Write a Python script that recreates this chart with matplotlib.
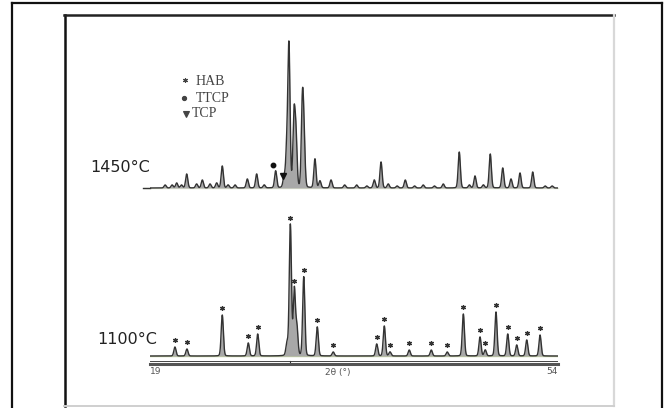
import numpy as np
import matplotlib
matplotlib.use("Agg")
import matplotlib.pyplot as plt
from matplotlib.lines import Line2D
from matplotlib.transforms import blended_transform_factory

# ---------------- data ----------------
# 1100 °C pattern: peak positions (2θ, deg) and heights (arb. units)
pos_1100 = [21.14, 22.17, 25.20, 27.43, 28.24, 30.75, 31.04, 31.38, 31.60, 32.19,
            33.35, 34.72, 38.45, 39.10, 39.59, 41.24, 43.13, 44.50, 45.88, 47.31,
            47.76, 48.68, 49.69, 50.46, 51.32, 52.46]
ht_1100 = [9, 7, 41, 13, 22, 12, 131, 66, 28, 79,
           29, 4, 12, 30, 4, 6, 6, 4, 42, 19,
           6, 44, 22, 11, 16, 21]
# peaks marked with an asterisk (HAB)
star_1100 = [21.14, 22.17, 25.20, 27.43, 28.24, 31.04, 31.38, 32.19, 33.35, 34.72,
             38.45, 39.10, 39.59, 41.24, 43.13, 44.50, 45.88, 47.31, 47.76, 48.68,
             49.69, 50.46, 51.32, 52.46]
star_ht = [9, 7, 41, 13, 22, 131, 68, 79, 29, 4,
           12, 30, 4, 6, 6, 4, 42, 19, 6, 44,
           22, 11, 16, 21]

# 1450 °C pattern
pos_1450 = [20.30, 20.90, 21.29, 21.70, 22.15, 23.00, 23.49, 24.15, 24.72, 25.20,
            25.70, 26.30, 27.35, 28.15, 28.80, 29.78, 30.50, 30.73, 30.92, 31.35,
            31.52, 32.07, 32.21, 33.15, 33.58, 34.53, 35.70, 36.73, 37.60, 38.24,
            38.82, 39.44, 40.20, 40.90, 41.70, 42.44, 43.40, 44.16, 45.53, 46.40,
            46.88, 47.60, 48.19, 49.26, 49.97, 50.74, 51.83, 52.90, 53.50]
ht_1450 = [3, 3, 5, 3, 14, 4, 8, 4, 5, 22,
           3, 3, 9, 14, 3, 17, 10, 36, 141, 70,
           50, 82, 45, 29, 7, 8, 3, 3, 2, 8,
           26, 4, 2, 8, 2, 3, 2, 4, 36, 3,
           12, 3, 34, 20, 9, 15, 16, 2, 2]
ttcp_mark = (29.55, 23)   # (2θ, height above 1450 baseline)
tcp_mark = (30.45, 12)

offset_1450 = 168
sample_labels = ["1450°C", "1100°C"]
legend_labels = ["HAB", "TTCP", "TCP"]
tick_labels = ["19", "54"]
xlabel = "2θ (°)"

# ---------------- figure ----------------
W, H = 665, 408
fig = plt.figure(figsize=(W / 100, H / 100), dpi=100)
fig.patch.set_facecolor("white")


def fx(px):
    return px / W


def fy(py):
    return 1 - py / H


# outer frame
fig.add_artist(Line2D([fx(12), fx(12)], [fy(3), fy(420)], color="#111", lw=1.6))
fig.add_artist(Line2D([fx(12), fx(662)], [fy(3), fy(3)], color="#111", lw=1.6))
fig.add_artist(Line2D([fx(662), fx(662)], [fy(3), fy(420)], color="#111", lw=1.6))
# inner frame
fig.add_artist(Line2D([fx(64.5), fx(64.5)], [fy(15), fy(406)], color="#111", lw=1.8))
fig.add_artist(Line2D([fx(64), fx(614)], [fy(15), fy(15)], color="#222", lw=1.8))
fig.add_artist(Line2D([fx(614), fx(614)], [fy(15), fy(406)], color="#d8d8d8", lw=1.6))
fig.add_artist(Line2D([fx(64), fx(614)], [fy(406), fy(406)], color="#cfcfcf", lw=1.4))

# main axes: x 150..558 px, y 20..364 px
ax = fig.add_axes([fx(150), fy(364), fx(558) - fx(150), (364 - 20) / H])
ax.set_xlim(19, 54)
ax.set_ylim(-8, 336)
ax.patch.set_alpha(0)
for s in ["top", "right", "left"]:
    ax.spines[s].set_visible(False)
ax.spines["bottom"].set_color("#555")
ax.spines["bottom"].set_linewidth(2.2)
ax.set_yticks([])
ax.set_xticks([19, 54])
ax.set_xticklabels(tick_labels, fontsize=6.5, color="#555")
ax.tick_params(axis="x", length=0, pad=2)
lbls = ax.get_xticklabels()
lbls[0].set_ha("left")
lbls[1].set_ha("right")
# second thin axis line just above
ax.axhline(-5.3, color="#444", lw=0.7)

theta = np.linspace(19, 54, 6000)


def profile(pos, ht, fwhm=0.22):
    y = np.zeros_like(theta)
    s = fwhm / 2.3548
    g = fwhm / 2
    for p, h in zip(pos, ht):
        gauss = np.exp(-0.5 * ((theta - p) / s) ** 2)
        lor = g ** 2 / ((theta - p) ** 2 + g ** 2)
        y += h * (0.9 * gauss + 0.1 * lor)
    return y


y1100 = profile(pos_1100, ht_1100)
y1450 = profile(pos_1450, ht_1450) + offset_1450

# baselines (faint green)
ax.axhline(0, color="#c5d3a0", lw=1.0, zorder=1)
ax.plot([18.5, 54], [offset_1450, offset_1450], color="#e4ead2", lw=1.0, zorder=1, clip_on=False)

ax.fill_between(theta, 0, y1100, color="#a8a8a8", lw=0, zorder=2)
ax.plot(theta, y1100, color="#333333", lw=1.0, zorder=3)
ax.fill_between(theta, offset_1450, y1450, color="#a8a8a8", lw=0, zorder=2)
ax.plot(theta, y1450, color="#333333", lw=1.0, zorder=3)
# 1450 trace extends slightly left of the axis
ax.plot([18.4, 19], [offset_1450, offset_1450], color="#333333", lw=1.0, clip_on=False)

# asterisk markers
ax.plot(star_1100, np.array(star_ht) + 7, ls="none", marker=(6, 2, 0), ms=3.5,
        mew=0.9, color="#333", zorder=4)
# TTCP / TCP markers on the 1450 trace
ax.plot([ttcp_mark[0]], [ttcp_mark[1] + offset_1450], ls="none", marker="o", ms=3.2,
        color="#111", zorder=4)
ax.plot([tcp_mark[0]], [tcp_mark[1] + offset_1450], ls="none", marker="v", ms=4,
        color="#111", zorder=4)

# small tick under the main peak
ax.plot([31.04, 31.04], [-8, -5], color="#333", lw=0.8, clip_on=False)

# x label
tr = blended_transform_factory(ax.transData, ax.transAxes)
ax.text(35.1, -0.012, xlabel, transform=tr, ha="center", va="top", fontsize=6.5,
        color="#555")

# sample labels
fig.text(fx(90), fy(167.5), sample_labels[0], fontsize=11.5, color="#222",
         ha="left", va="center", family="DejaVu Sans")
fig.text(fx(97), fy(340), sample_labels[1], fontsize=11.5, color="#222",
         ha="left", va="center", family="DejaVu Sans")

# legend
leg_y = [81.5, 98, 113.5]
leg_mk = [((6, 2, 0), 3.5, 185), ("o", 3.0, 184), ("v", 3.8, 186)]
for (mk, ms, mx), yy, lab in zip(leg_mk, leg_y, legend_labels):
    fig.add_artist(Line2D([fx(mx)], [fy(yy - (2 if lab == "HAB" else 0))], ls="none",
                          marker=mk, ms=ms, mew=0.8, color="#444"))
    fig.text(fx(196 if lab != "TCP" else 192), fy(yy), lab, fontsize=10,
             family="Liberation Serif", color="#444", ha="left", va="center")

fig.savefig("out.png", dpi=100, facecolor="white")
